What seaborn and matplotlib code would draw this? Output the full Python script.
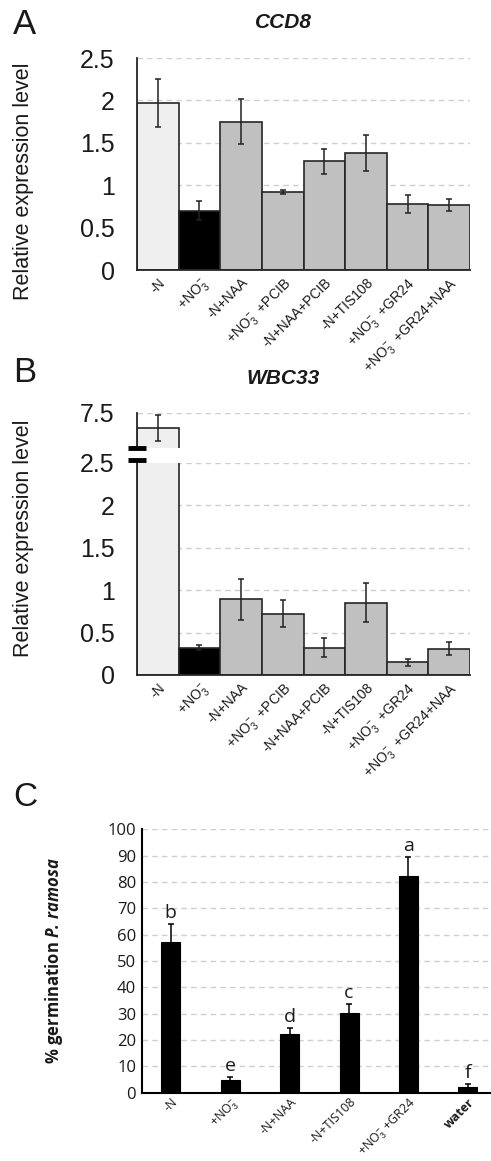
import matplotlib
matplotlib.use("Agg")
import matplotlib.pyplot as plt
import numpy as np
import pandas as pd
import seaborn as sns

# ---- data ----
expr_labels = ["-N", r"+NO$_3^{-}$", "-N+NAA", r"+NO$_3^{-}$  +PCIB",
               "-N+NAA+PCIB", "-N+TIS108", r"+NO$_3^{-}$  +GR24",
               r"+NO$_3^{-}$  +GR24+NAA"]
expr_colors = ["#efefef", "#000000", "#c0c0c0", "#c0c0c0",
               "#c0c0c0", "#c0c0c0", "#c0c0c0", "#c0c0c0"]

ccd8_mean = [1.97, 0.70, 1.75, 0.92, 1.28, 1.38, 0.78, 0.77]
ccd8_err = [0.28, 0.11, 0.27, 0.02, 0.15, 0.21, 0.11, 0.07]

wbc33_mean = [6.0, 0.32, 0.89, 0.72, 0.32, 0.85, 0.15, 0.31]
wbc33_err = [1.3, 0.03, 0.24, 0.16, 0.11, 0.23, 0.04, 0.08]

germ_labels = ["-N", r"+NO$_3^{-}$", "-N+NAA", "-N+TIS108",
               r"+NO$_3^{-}$ +GR24", "water"]
germ_mean = [57.3, 5.0, 22.4, 30.3, 82.3, 2.3]
germ_err = [6.6, 1.0, 2.0, 3.2, 7.3, 1.0]
germ_letters = ["b", "e", "d", "c", "a", "f"]

sns.set_style("white")
plt.rcParams["font.family"] = ["Liberation Sans", "DejaVu Sans"]
plt.rcParams["text.color"] = "#1a1a1a"
plt.rcParams["axes.labelcolor"] = "#1a1a1a"
plt.rcParams["xtick.color"] = "#1a1a1a"
plt.rcParams["ytick.color"] = "#1a1a1a"
plt.rcParams["mathtext.fontset"] = "custom"
plt.rcParams["mathtext.rm"] = "Liberation Sans"
plt.rcParams["mathtext.it"] = "Liberation Sans:italic"
plt.rcParams["mathtext.bf"] = "Liberation Sans:bold"
plt.rcParams["mathtext.bfit"] = "Open Sans:italic:bold"

EDGE = "#262626"
GRID = "#cfcfcf"

fig = plt.figure(figsize=(4.91, 11.61), dpi=100)


def expr_bars(ax, mean, err, show_err=True):
    df = pd.DataFrame({"cond": expr_labels, "val": mean})
    sns.barplot(data=df, x="cond", y="val", hue="cond", palette=expr_colors,
                legend=False, width=1.0, edgecolor=EDGE, linewidth=1.2,
                saturation=1, ax=ax)
    if show_err:
        ax.errorbar(range(len(mean)), mean, yerr=err, fmt="none",
                    ecolor="#222222", elinewidth=1.1, capsize=2.2, capthick=1.1,
                    zorder=5)
    ax.set_xlim(-0.5, len(mean) - 0.5)
    ax.set_xlabel("")
    ax.set_ylabel("")
    ax.yaxis.grid(True, linestyle=(0, (4, 3)), color=GRID, linewidth=1)
    ax.set_axisbelow(True)
    sns.despine(ax=ax)
    for s in ["left", "bottom"]:
        ax.spines[s].set_color(EDGE)
        ax.spines[s].set_linewidth(1.3)
    ax.tick_params(axis="y", length=0, pad=16, labelsize=18)
    ax.tick_params(axis="x", length=0, pad=4, labelsize=10)


def fmt(v):
    return "0" if v == 0 else ("%g" % v)


def rotate_labels(ax):
    for lbl in ax.get_xticklabels():
        lbl.set_rotation(45)
        lbl.set_ha("right")
        lbl.set_va("top")
        lbl.set_rotation_mode("anchor")


# ---- panel A ----
axA = fig.add_axes([137 / 491, 1 - 270 / 1161, 333 / 491, 212 / 1161])
expr_bars(axA, ccd8_mean, ccd8_err)
axA.set_ylim(0, 2.5)
ticksA = np.arange(0, 2.51, 0.5)
axA.set_yticks(ticksA)
axA.set_yticklabels([fmt(t) for t in ticksA])
rotate_labels(axA)
axA.set_ylabel("Relative expression level", fontsize=15.5)
axA.yaxis.set_label_coords(-0.31, 0.42)
fig.text(283 / 491, 1 - 22 / 1161, "CCD8", fontsize=15, fontweight="bold",
         fontstyle="italic", ha="center", va="center")
fig.text(13 / 491, 1 - 24 / 1161, "A", fontsize=25, ha="left", va="center")

# ---- panel B (broken axis) ----
axB = fig.add_axes([137 / 491, 1 - 675 / 1161, 333 / 491, 212.5 / 1161])
axBt = fig.add_axes([137 / 491, 1 - 448 / 1161, 333 / 491, 35 / 1161])
expr_bars(axB, wbc33_mean, wbc33_err)
expr_bars(axBt, wbc33_mean, wbc33_err)
axB.set_ylim(0, 2.5)
axB.set_yticks(ticksA)
axB.set_yticklabels([fmt(t) for t in ticksA])
rotate_labels(axB)
axBt.set_ylim(4.0, 7.5)
axBt.set_yticks([7.5])
axBt.set_yticklabels(["7.5"])
axBt.set_xticks([])
axBt.spines["bottom"].set_visible(False)
for a, yy in [(axBt, 0.0), (axB, 1.0 + 2.5 / 212.5)]:
    a.plot([-0.028, 0.028], [yy, yy], transform=a.transAxes, color="black",
           linewidth=3.5, clip_on=False, solid_capstyle="butt", zorder=10)
axB.set_ylabel("Relative expression level", fontsize=15.5)
axB.yaxis.set_label_coords(-0.31, 0.645)
fig.text(283 / 491, 1 - 378 / 1161, "WBC33", fontsize=15, fontweight="bold",
         fontstyle="italic", ha="center", va="center")
fig.text(13 / 491, 1 - 372 / 1161, "B", fontsize=25, ha="left", va="center")

# ---- panel C ----
axC = fig.add_axes([141.7 / 491, 1 - 1092.7 / 1161, 349.3 / 491, 263.4 / 1161])
dfC = pd.DataFrame({"cond": germ_labels, "val": germ_mean})
sns.barplot(data=dfC, x="cond", y="val", color="black", width=0.32,
            saturation=1, edgecolor="black", linewidth=0.8, ax=axC)
axC.errorbar(range(len(germ_mean)), germ_mean, yerr=germ_err, fmt="none",
             ecolor="black", elinewidth=1.1, capsize=2.2, capthick=1.1, zorder=5)
for i, (m, e, t) in enumerate(zip(germ_mean, germ_err, germ_letters)):
    axC.annotate(t, (i, m + e), xytext=(0, 1.5), textcoords="offset points",
                 ha="center", va="bottom", fontsize=14, family="Open Sans")
axC.set_xlim(-0.49, 5.39)
axC.set_ylim(0, 100)
axC.set_yticks(range(0, 101, 10))
axC.yaxis.grid(True, linestyle=(0, (4, 3)), color=GRID, linewidth=1)
axC.set_axisbelow(True)
sns.despine(ax=axC)
for s in ["left", "bottom"]:
    axC.spines[s].set_color("black")
    axC.spines[s].set_linewidth(1.5)
axC.tick_params(axis="y", length=0, pad=4, labelsize=12)
axC.tick_params(axis="x", length=0, pad=2, labelsize=9)
for lbl in axC.get_yticklabels():
    lbl.set_family("Open Sans")
rotate_labels(axC)
for lbl in axC.get_xticklabels():
    lbl.set_family("Open Sans")
    if lbl.get_text() == "water":
        lbl.set_fontweight("bold")
axC.set_xlabel("")
axC.set_ylabel(r"% germination $\mathbfit{P.\,ramosa}$", fontsize=12,
               fontweight="bold", family="Open Sans")
axC.yaxis.set_label_coords(-0.22, 0.5)
fig.text(13 / 491, 1 - 798 / 1161, "C", fontsize=24, ha="left", va="center")

fig.savefig("out.png", dpi=100)
